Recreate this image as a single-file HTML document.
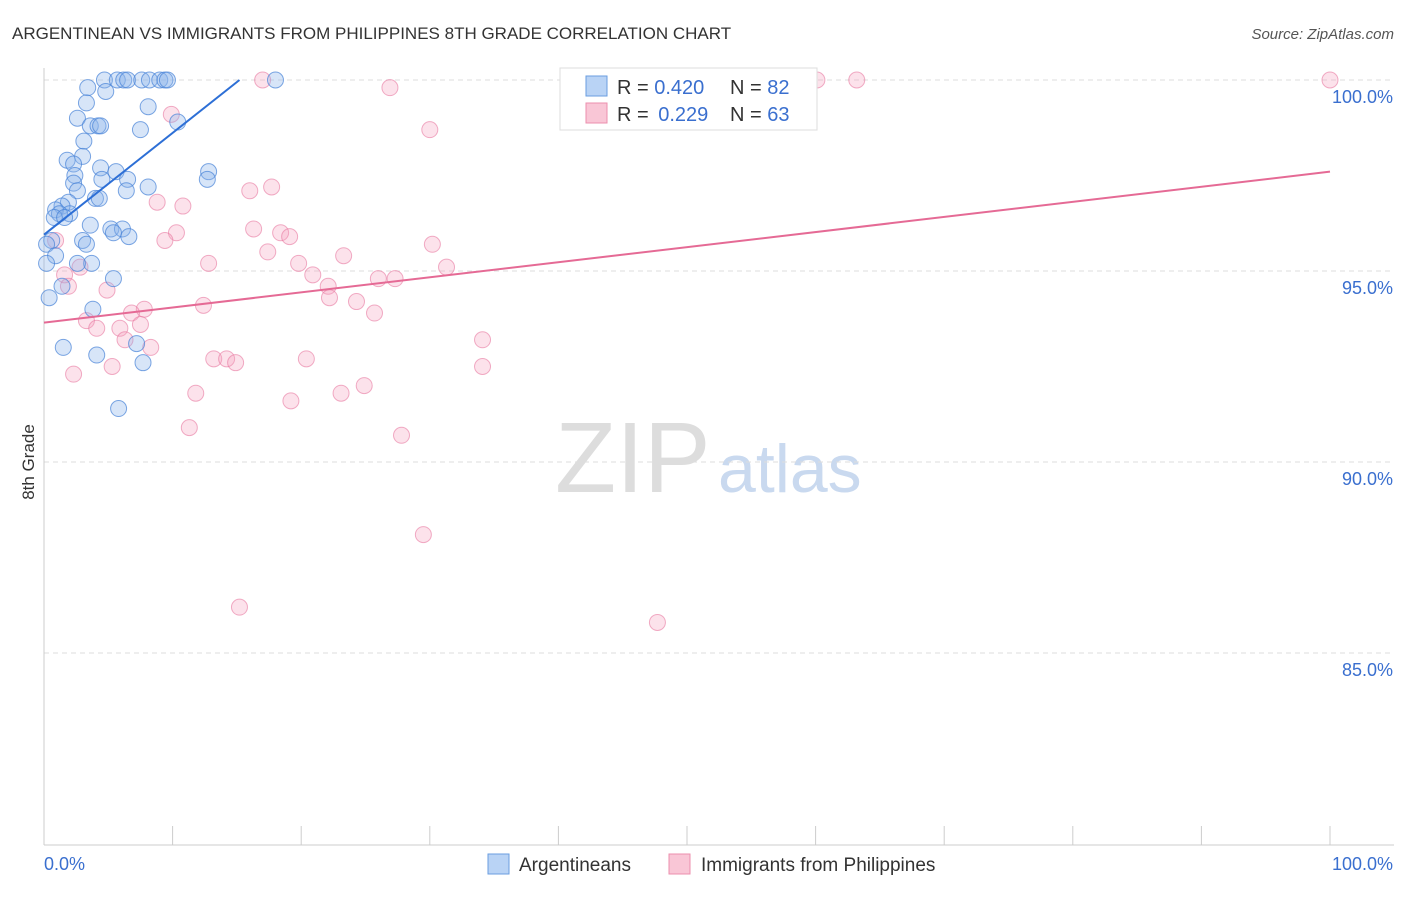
<!DOCTYPE html>
<html><head><meta charset="utf-8"><style>
body{margin:0;background:#fff;font-family:"Liberation Sans",sans-serif}
svg text{font-family:"Liberation Sans",sans-serif}
</style></head><body>
<svg id="chart" width="1406" height="892">
<text x="12" y="39" font-size="17" fill="#333">ARGENTINEAN VS IMMIGRANTS FROM PHILIPPINES 8TH GRADE CORRELATION CHART</text>
<text x="1394" y="39" font-size="15" fill="#555" text-anchor="end" font-style="italic">Source: ZipAtlas.com</text>
<text x="34" y="462" font-size="17" fill="#333" transform="rotate(-90 34 462)" text-anchor="middle">8th Grade</text>
<text x="555" y="492" font-size="100" fill="#ddd" font-family="Liberation Serif">ZIP</text>
<text x="718" y="492" font-size="68" fill="#c9d9ef">atlas</text>
<g id="grid"></g><g id="axes"></g><g id="pts"></g><g id="lines"></g>
<g>
<rect x="560" y="68" width="257" height="62" fill="#fff" stroke="#ddd"/>
<rect x="586" y="76" width="21" height="20" fill="#b9d3f5" stroke="#6a9ee0"/>
<rect x="586" y="103" width="21" height="20" fill="#f9c6d6" stroke="#ec8fae"/>
<text x="617" y="94" font-size="20" fill="#333">R = <tspan fill="#3a6fcf">0.420</tspan></text>
<text x="730" y="94" font-size="20" fill="#333">N = <tspan fill="#3a6fcf">82</tspan></text>
<text x="617" y="121" font-size="20" fill="#333">R = <tspan fill="#3a6fcf" dx="4">0.229</tspan></text>
<text x="730" y="121" font-size="20" fill="#333">N = <tspan fill="#3a6fcf">63</tspan></text>
</g>
<g>
<rect x="488" y="854" width="21" height="20" fill="#b9d3f5" stroke="#6a9ee0"/>
<text x="519" y="871" font-size="19" fill="#333">Argentineans</text>
<rect x="669" y="854" width="21" height="20" fill="#f9c6d6" stroke="#ec8fae"/>
<text x="701" y="871" font-size="19" fill="#333">Immigrants from Philippines</text>
</g>
</svg>
<script>
const yTicks=[100,95,90,85];
const yTickLabels=["100.0%","95.0%","90.0%","85.0%"];
const blueX=[4.7,5.7,6.2,6.5,7.6,8.2,9.0,9.4,9.6,18.0,3.4,4.8,3.3,8.1,2.6,3.6,4.2,4.4,7.5,10.4,3.1,3.0,1.8,2.3,4.4,5.6,12.8,2.4,4.5,6.5,12.7,2.3,8.1,6.4,2.6,4.0,4.3,1.9,1.4,0.9,2.0,1.2,0.8,1.6,3.6,5.2,6.1,5.4,6.6,0.6,3.0,3.3,0.2,0.9,0.2,3.7,2.6,5.4,1.4,0.4,3.8,1.5,4.1,7.2,7.7,5.8];
const blueY=[100,100,100,100,100,100,100,100,100,100,99.8,99.7,99.4,99.3,99.0,98.8,98.8,98.8,98.7,98.9,98.4,98.0,97.9,97.8,97.7,97.6,97.6,97.5,97.4,97.4,97.4,97.3,97.2,97.1,97.1,96.9,96.9,96.8,96.7,96.6,96.5,96.5,96.4,96.4,96.2,96.1,96.1,96.0,95.9,95.8,95.8,95.7,95.7,95.4,95.2,95.2,95.2,94.8,94.6,94.3,94.0,93.0,92.8,93.1,92.6,91.4];
const pinkX=[17.0,60.1,63.2,100,26.9,9.9,30.0,17.7,16.0,8.8,10.8,16.3,18.4,10.3,19.1,9.4,0.9,30.2,17.4,23.3,12.8,19.8,31.3,2.8,1.6,20.9,22.1,1.9,4.9,22.2,26.0,27.3,24.3,12.4,7.8,25.7,6.8,3.3,7.5,4.1,5.9,34.1,6.3,8.3,13.2,14.2,14.9,20.4,34.1,5.3,2.3,24.9,23.1,11.8,19.2,11.3,27.8,29.5,15.2,47.7];
const pinkY=[100,100,100,100,99.8,99.1,98.7,97.2,97.1,96.8,96.7,96.1,96.0,96.0,95.9,95.8,95.8,95.7,95.5,95.4,95.2,95.2,95.1,95.1,94.9,94.9,94.6,94.6,94.5,94.3,94.8,94.8,94.2,94.1,94.0,93.9,93.9,93.7,93.6,93.5,93.5,93.2,93.2,93.0,92.7,92.7,92.6,92.7,92.5,92.5,92.3,92.0,91.8,91.8,91.6,90.9,90.7,88.1,86.2,85.8];
const blueTrend=[0,95.95,15.2,100];
const pinkTrend=[0,93.65,100,97.6];
const NS="http://www.w3.org/2000/svg";
const X=v=>44+v*12.86, Y=v=>80+(100-v)*38.2;
function mk(t,a,p){const e=document.createElementNS(NS,t);for(const k in a)e.setAttribute(k,a[k]);document.getElementById(p).appendChild(e);return e;}
yTicks.forEach((t,i)=>{
 const l=mk('line',{x1:44,x2:1394,y1:Y(t),y2:Y(t),stroke:'#ddd','stroke-dasharray':'5,4'},'grid');
 
 
 const tx=mk('text',{x:1393,y:Y(t)+23,'font-size':18,fill:'#3a6fcf','text-anchor':'end'},'axes');
 tx.textContent=yTickLabels[i];
 
 
});
const ax=mk('line',{x1:44,x2:44,y1:68,y2:845,stroke:'#ccc'},'axes');


const bx=mk('line',{x1:44,x2:1394,y1:845,y2:845,stroke:'#ccc'},'axes');


for(let i=0;i<=10;i++){const t=mk('line',{x1:44+i*128.6,x2:44+i*128.6,y1:826,y2:845,stroke:'#ccc'},'axes');
 
 }
[[0,'0.0%','start',44],[100,'100.0%','end',1393]].forEach(d=>{const t=mk('text',{x:d[3],y:870,'font-size':18,fill:'#3a6fcf','text-anchor':d[2]},'axes');t.textContent=d[1];
 
 });
pinkX.forEach((v,i)=>{const c=mk('circle',{cx:X(v),cy:Y(pinkY[i]),r:8,fill:'rgba(244,160,190,0.3)',stroke:'rgba(232,120,160,0.6)'},'pts');
 
 });
blueX.forEach((v,i)=>{const c=mk('circle',{cx:X(v),cy:Y(blueY[i]),r:8,fill:'rgba(140,180,235,0.35)',stroke:'rgba(70,130,215,0.7)'},'pts');
 
 });
const bl=mk('line',{x1:X(blueTrend[0]),y1:Y(blueTrend[1]),x2:X(blueTrend[2]),y2:Y(blueTrend[3]),stroke:'#2d6fd6','stroke-width':2},'lines');


const pl=mk('line',{x1:X(pinkTrend[0]),y1:Y(pinkTrend[1]),x2:X(pinkTrend[2]),y2:Y(pinkTrend[3]),stroke:'#e56a95','stroke-width':2},'lines');


</script>
</body></html>
